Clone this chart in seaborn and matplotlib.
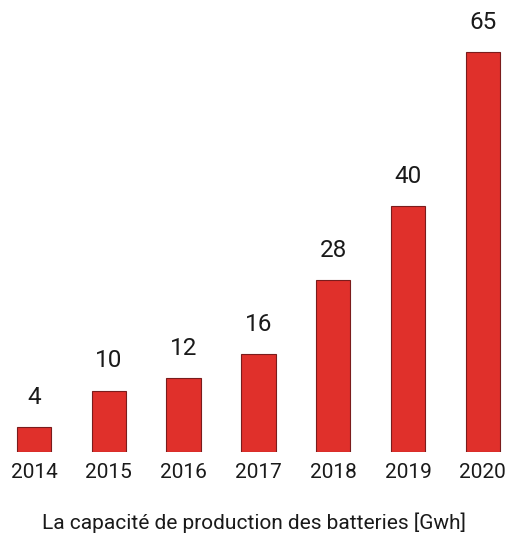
import matplotlib
matplotlib.use("Agg")
import matplotlib.pyplot as plt
import seaborn as sns
import pandas as pd

years = ["2014", "2015", "2016", "2017", "2018", "2019", "2020"]
capacity = [4, 10, 12, 16, 28, 40, 65]
title = "La capacité de production des batteries [Gwh]"

sns.set_theme(style="white")
plt.rcParams['font.family'] = ['Roboto', 'DejaVu Sans']

df = pd.DataFrame({"year": years, "cap": capacity})

fig = plt.figure(figsize=(5.09, 5.35), dpi=100)
ax = fig.add_axes([0, 83/535, 1, 452/535])
sns.barplot(data=df, x="year", y="cap", color="#e0302b", width=0.46,
            edgecolor="#7a1c1c", linewidth=0.8, saturation=1, ax=ax)
for i, v in enumerate(capacity):
    ax.annotate(str(v), (i, v), xytext=(0, 13), textcoords="offset points",
                ha="center", va="bottom", fontsize=17.5, color="#1a1a1a")
ax.set_xlim(-0.455, 6.35)
ax.set_ylim(0, 73.5)
ax.set_yticks([])
ax.set_xlabel("")
ax.set_ylabel("")
for s in ax.spines.values():
    s.set_visible(False)
ax.tick_params(axis="x", length=0, pad=8, labelsize=15, labelcolor="#1a1a1a")
fig.text(0.5, 1 - 523/535, title, ha="center", va="center", fontsize=15, color="#1a1a1a")
fig.savefig("out.png", dpi=100)
